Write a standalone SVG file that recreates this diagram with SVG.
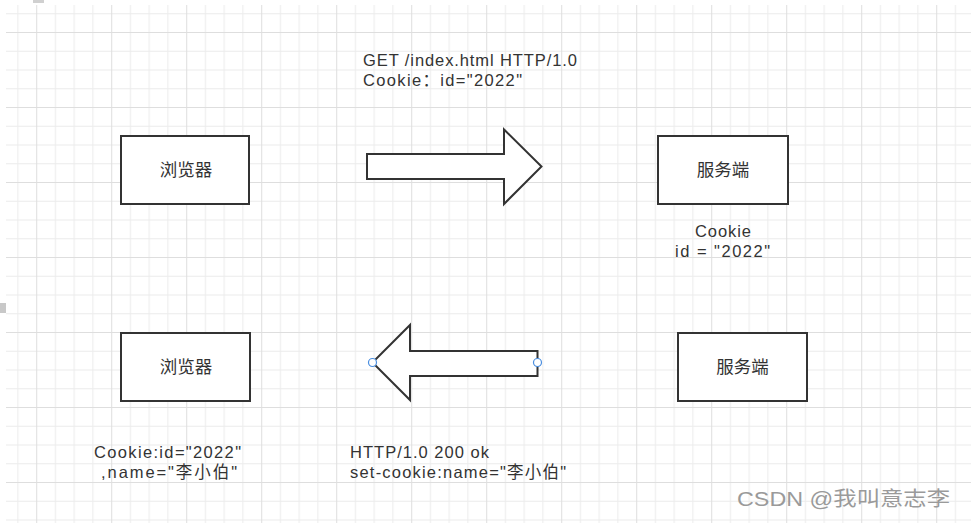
<svg xmlns="http://www.w3.org/2000/svg" width="971" height="523" viewBox="0 0 971 523">
  <style>
    .box { fill: #ffffff; stroke: #333333; stroke-width: 2; }
    .arrow { fill: #ffffff; stroke: #333333; stroke-width: 2; stroke-linejoin: miter; }
    .lbl { font-family: "Liberation Sans", "Noto Sans CJK SC", sans-serif; font-size: 16.5px; fill: #333333; }
    .cn { font-family: "Noto Sans CJK SC", sans-serif; font-size: 17.5px; fill: #333333; }
    .handle { fill: #ffffff; stroke: #4a8ee0; stroke-width: 1.2; }
    .wm { font-family: "Liberation Sans", "Noto Sans CJK SC", sans-serif; font-size: 20px; fill: #9a9a9a; }
  </style>
  <defs>
    <pattern id="grid" patternUnits="userSpaceOnUse" x="36.2" y="32" width="75" height="75">
      <rect x="0" y="0" width="75" height="75" fill="#ffffff"/>
      <rect x="18.75" y="0" width="1" height="75" fill="#ececec"/>
      <rect x="37.5" y="0" width="1" height="75" fill="#ececec"/>
      <rect x="56.25" y="0" width="1" height="75" fill="#ececec"/>
      <rect x="0" y="18.75" width="75" height="1" fill="#ececec"/>
      <rect x="0" y="37.5" width="75" height="1" fill="#ececec"/>
      <rect x="0" y="56.25" width="75" height="1" fill="#ececec"/>
      <rect x="0" y="0" width="1" height="75" fill="#dedede"/>
      <rect x="0" y="0" width="75" height="1" fill="#dedede"/>
    </pattern>
  </defs>

  <rect x="0" y="0" width="971" height="523" fill="#ffffff"/>
  <rect x="6" y="5" width="965" height="518" fill="url(#grid)"/>
  <rect x="33" y="0" width="11" height="3" fill="#d0d0d0"/>
  <rect x="0" y="303" width="6" height="10" fill="#c8c8c8"/>

  <g id="browser-top">
    <rect class="box" x="121" y="136" width="128" height="68"/>
    <text class="cn" x="186" y="176" text-anchor="middle">浏览器</text>
  </g>
  <g id="server-top">
    <rect class="box" x="658" y="136" width="130" height="68"/>
    <text class="cn" x="723" y="176" text-anchor="middle">服务端</text>
  </g>
  <g id="browser-bottom">
    <rect class="box" x="121" y="333" width="129" height="68"/>
    <text class="cn" x="186" y="373" text-anchor="middle">浏览器</text>
  </g>
  <g id="server-bottom">
    <rect class="box" x="678" y="333" width="129" height="68"/>
    <text class="cn" x="742.5" y="373" text-anchor="middle">服务端</text>
  </g>

  <g id="connectors">
    <polygon class="arrow" points="367,154 504,154 504,129.5 541.5,166.5 504,204 504,179 367,179"/>
    <polygon class="arrow" points="537.5,351 410,351 410,325 372.5,362.5 410,400 410,376 537.5,376"/>
    <circle class="handle" cx="372.5" cy="362.5" r="4"/>
    <circle class="handle" cx="537.5" cy="362.5" r="4"/>
  </g>

  <g id="labels">
    <text class="lbl" x="363" y="66" textLength="214" lengthAdjust="spacing">GET /index.html HTTP/1.0</text>
    <text class="lbl" x="363" y="86" textLength="159" lengthAdjust="spacing">Cookie：id="2022"</text>
    <text class="lbl" x="695" y="237" textLength="56" lengthAdjust="spacing">Cookie</text>
    <text class="lbl" x="675" y="257" textLength="95" lengthAdjust="spacing">id = "2022"</text>
    <text class="lbl" x="94" y="458" textLength="147" lengthAdjust="spacing">Cookie:id="2022"</text>
    <text class="lbl" x="101" y="478" textLength="136" lengthAdjust="spacing">,name="李小伯"</text>
    <text class="lbl" x="350" y="458" textLength="139" lengthAdjust="spacing">HTTP/1.0 200 ok</text>
    <text class="lbl" x="350" y="478" textLength="216" lengthAdjust="spacing">set-cookie:name="李小伯"</text>
  </g>

  <text class="wm" x="737" y="506" textLength="213" lengthAdjust="spacingAndGlyphs">CSDN @我叫意志李</text>
</svg>
